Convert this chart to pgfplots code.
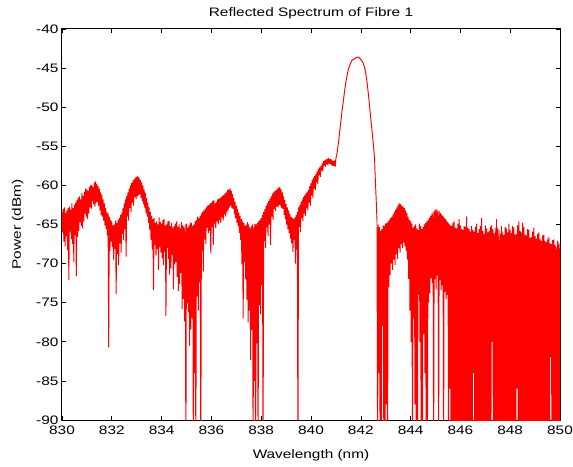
\documentclass[border=0pt]{standalone}
\usepackage{fontspec}
\setmainfont{Liberation Sans}[FakeStretch=1.25]
\usepackage{pgfplots}
\pgfplotsset{compat=1.18}
\usepackage{pgfplotstable}
\pgfplotstableread{
x y
830.000 -63.4
830.025 -66.0
830.050 -63.0
830.075 -67.2
830.100 -62.8
830.125 -67.8
830.150 -63.5
830.175 -66.5
830.200 -63.2
830.225 -68.3
830.250 -62.9
830.275 -72.1
830.300 -62.7
830.325 -65.9
830.350 -63.1
830.375 -66.9
830.400 -62.3
830.425 -67.5
830.450 -62.9
830.475 -69.8
830.500 -62.5
830.525 -66.4
830.550 -62.2
830.575 -71.6
830.600 -61.9
830.625 -66.6
830.650 -61.6
830.675 -65.8
830.700 -61.4
830.725 -64.7
830.750 -61.8
830.775 -65.2
830.800 -61.0
830.825 -65.5
830.850 -61.3
830.875 -64.6
830.900 -60.8
830.925 -63.6
830.950 -60.4
830.975 -64.0
831.000 -60.5
831.025 -64.3
831.050 -60.7
831.075 -63.6
831.100 -60.2
831.125 -62.8
831.150 -60.0
831.175 -63.0
831.200 -59.9
831.225 -62.0
831.250 -60.2
831.275 -62.4
831.300 -59.6
831.325 -62.7
831.350 -59.5
831.375 -62.2
831.400 -59.8
831.425 -62.1
831.450 -60.1
831.475 -62.6
831.500 -60.4
831.525 -63.2
831.550 -60.9
831.575 -63.8
831.600 -61.2
831.625 -64.0
831.650 -61.8
831.675 -64.5
831.700 -62.3
831.725 -65.1
831.750 -62.9
831.775 -65.6
831.800 -63.4
831.825 -66.4
831.850 -63.6
831.875 -80.7
831.900 -64.0
831.925 -68.4
831.950 -64.4
831.975 -67.2
832.000 -64.6
832.025 -67.9
832.050 -65.1
832.075 -69.5
832.100 -65.0
832.125 -68.1
832.150 -64.5
832.175 -73.9
832.200 -64.8
832.225 -68.8
832.250 -64.4
832.275 -70.2
832.300 -64.2
832.325 -67.4
832.350 -63.8
832.375 -68.6
832.400 -63.5
832.425 -66.2
832.450 -62.9
832.475 -67.0
832.500 -62.3
832.525 -65.6
832.550 -61.8
832.575 -69.1
832.600 -61.3
832.625 -64.0
832.650 -60.9
832.675 -64.5
832.700 -60.4
832.725 -62.9
832.750 -60.0
832.775 -63.4
832.800 -59.7
832.825 -62.2
832.850 -59.4
832.875 -62.6
832.900 -59.2
832.925 -61.5
832.950 -59.0
832.975 -61.8
833.000 -58.9
833.025 -61.4
833.050 -58.8
833.075 -61.2
833.100 -59.0
833.125 -61.1
833.150 -59.3
833.175 -61.6
833.200 -59.6
833.225 -62.0
833.250 -60.0
833.275 -62.4
833.300 -60.5
833.325 -62.9
833.350 -61.0
833.375 -63.5
833.400 -61.6
833.425 -64.0
833.450 -62.2
833.475 -64.8
833.500 -62.8
833.525 -65.7
833.550 -63.4
833.575 -67.0
833.600 -63.9
833.625 -68.2
833.650 -64.3
833.675 -73.4
833.700 -64.2
833.725 -67.6
833.750 -64.8
833.775 -69.0
833.800 -64.6
833.825 -68.1
833.850 -65.0
833.875 -70.8
833.900 -64.1
833.925 -67.9
833.950 -64.7
833.975 -68.6
834.000 -64.9
834.025 -69.3
834.050 -64.4
834.075 -70.2
834.100 -64.3
834.125 -68.5
834.150 -65.1
834.175 -76.7
834.200 -65.0
834.225 -68.0
834.250 -64.6
834.275 -69.4
834.300 -64.5
834.325 -71.4
834.350 -65.2
834.375 -70.6
834.400 -64.8
834.425 -68.9
834.450 -65.4
834.475 -73.3
834.500 -65.2
834.525 -70.1
834.550 -64.9
834.575 -69.8
834.600 -64.6
834.625 -71.7
834.650 -65.3
834.675 -73.5
834.700 -65.0
834.725 -72.6
834.750 -65.5
834.775 -71.2
834.800 -64.7
834.825 -75.8
834.850 -65.1
834.875 -74.5
834.900 -65.3
834.925 -77.4
834.950 -65.0
834.975 -95
835.000 -64.9
835.025 -75.1
835.050 -65.4
835.075 -76.2
835.100 -65.1
835.125 -80.5
835.150 -64.7
835.175 -78.4
835.200 -64.8
835.225 -76.9
835.250 -65.2
835.275 -95
835.300 -65.0
835.325 -84.0
835.350 -64.6
835.375 -95
835.400 -64.4
835.425 -74.2
835.450 -64.0
835.475 -76.0
835.500 -64.2
835.525 -72.4
835.550 -63.9
835.575 -95
835.600 -63.6
835.625 -68.4
835.650 -63.4
835.675 -71.0
835.700 -63.2
835.725 -66.9
835.750 -63.0
835.775 -67.5
835.800 -62.8
835.825 -65.4
835.850 -62.6
835.875 -66.1
835.900 -62.5
835.925 -65.8
835.950 -62.3
835.975 -68.7
836.000 -62.2
836.025 -65.3
836.050 -62.0
836.075 -67.6
836.100 -61.9
836.125 -64.9
836.150 -62.3
836.175 -65.5
836.200 -62.1
836.225 -64.6
836.250 -61.8
836.275 -65.0
836.300 -61.7
836.325 -64.4
836.350 -61.6
836.375 -64.8
836.400 -61.5
836.425 -64.1
836.450 -61.3
836.475 -64.5
836.500 -61.2
836.525 -63.7
836.550 -61.0
836.575 -64.0
836.600 -60.9
836.625 -63.4
836.650 -60.6
836.675 -63.2
836.700 -60.5
836.725 -62.8
836.750 -60.4
836.775 -62.6
836.800 -60.7
836.825 -62.9
836.850 -61.1
836.875 -63.0
836.900 -61.6
836.925 -63.7
836.950 -62.1
836.975 -64.2
837.000 -62.6
837.025 -64.8
837.050 -63.0
837.075 -65.2
837.100 -63.5
837.125 -66.1
837.150 -63.9
837.175 -67.0
837.200 -64.3
837.225 -70.1
837.250 -64.6
837.275 -77.0
837.300 -64.8
837.325 -69.8
837.350 -65.1
837.375 -72.0
837.400 -65.0
837.425 -74.6
837.450 -64.7
837.475 -77.5
837.500 -64.9
837.525 -76.0
837.550 -65.4
837.575 -82.3
837.600 -65.2
837.625 -78.5
837.650 -65.0
837.675 -95
837.700 -65.3
837.725 -85.0
837.750 -64.9
837.775 -95
837.800 -65.0
837.825 -80.2
837.850 -64.8
837.875 -95
837.900 -64.6
837.925 -75.3
837.950 -64.4
837.975 -76.5
838.000 -64.2
838.025 -72.8
838.050 -63.8
838.075 -95
838.100 -63.4
838.125 -67.1
838.150 -63.0
838.175 -68.0
838.200 -62.6
838.225 -65.4
838.250 -62.3
838.275 -66.5
838.300 -62.0
838.325 -65.0
838.350 -61.7
838.375 -67.6
838.400 -61.4
838.425 -64.0
838.450 -61.1
838.475 -64.4
838.500 -60.9
838.525 -63.0
838.550 -60.7
838.575 -63.3
838.600 -60.6
838.625 -62.7
838.650 -60.4
838.675 -62.8
838.700 -60.3
838.725 -62.5
838.750 -60.2
838.775 -62.6
838.800 -60.5
838.825 -62.9
838.850 -60.9
838.875 -63.0
838.900 -61.4
838.925 -63.8
838.950 -61.9
838.975 -64.3
839.000 -62.4
839.025 -65.0
839.050 -62.8
839.075 -65.6
839.100 -63.2
839.125 -66.1
839.150 -63.6
839.175 -66.8
839.200 -64.0
839.225 -67.4
839.250 -64.2
839.275 -68.5
839.300 -64.3
839.325 -67.0
839.350 -64.1
839.375 -70.0
839.400 -63.8
839.425 -68.2
839.450 -63.4
839.475 -95
839.500 -62.8
839.525 -65.3
839.550 -62.5
839.575 -66.0
839.600 -62.1
839.625 -64.2
839.650 -61.8
839.675 -64.6
839.700 -61.5
839.725 -63.6
839.750 -61.2
839.775 -63.9
839.800 -61.0
839.825 -62.9
839.850 -60.8
839.875 -63.2
839.900 -60.6
839.925 -62.2
839.950 -60.1
839.975 -62.6
840.000 -59.7
840.025 -61.3
840.050 -59.3
840.075 -61.6
840.100 -59.0
840.125 -60.4
840.150 -58.8
840.175 -60.6
840.200 -58.5
840.225 -59.6
840.250 -58.2
840.275 -59.8
840.300 -57.9
840.325 -58.7
840.350 -57.7
840.375 -58.9
840.400 -57.5
840.425 -58.1
840.450 -57.2
840.475 -58.2
840.500 -56.9
840.525 -57.5
840.550 -56.8
840.575 -57.6
840.600 -56.7
840.625 -57.3
840.650 -56.6
840.675 -57.4
840.700 -56.5
840.725 -57.2
840.750 -56.6
840.775 -57.3
840.800 -56.6
840.825 -57.4
840.850 -56.8
840.875 -57.5
840.900 -56.9
840.925 -57.5
840.950 -56.8
840.975 -57.6
841.000 -56.6
841.050 -55.8
841.100 -54.6
841.150 -53.2
841.200 -51.8
841.250 -50.4
841.300 -49.2
841.350 -47.9
841.400 -46.8
841.450 -45.9
841.500 -45.2
841.550 -44.7
841.600 -44.3
841.650 -44.0
841.700 -43.9
841.750 -43.8
841.800 -43.7
841.850 -43.6
841.900 -43.6
841.950 -43.7
842.000 -43.9
842.050 -44.1
842.100 -44.4
842.150 -44.9
842.200 -45.7
842.250 -46.8
842.300 -48.2
842.350 -49.8
842.400 -51.4
842.450 -53.0
842.500 -54.6
842.550 -56.4
842.580 -59.0
842.620 -62.0
842.650 -64.5
842.675 -95
842.700 -65.0
842.725 -84
842.750 -65.3
842.775 -95
842.800 -65.8
842.825 -90
842.850 -65.6
842.875 -78.0
842.900 -65.1
842.925 -95
842.950 -65.2
842.975 -95
843.000 -64.9
843.025 -88
843.050 -64.8
843.075 -95
843.100 -64.6
843.125 -73.0
843.150 -64.4
843.175 -71.5
843.200 -64.2
843.225 -70.0
843.250 -64.0
843.275 -70.8
843.300 -63.7
843.325 -69.5
843.350 -63.4
843.375 -70.2
843.400 -63.1
843.425 -68.8
843.450 -62.8
843.475 -69.4
843.500 -62.5
843.525 -68.0
843.550 -62.3
843.575 -68.6
843.600 -62.4
843.625 -67.5
843.650 -62.6
843.675 -68.0
843.700 -62.7
843.725 -67.3
843.750 -62.9
843.775 -67.8
843.800 -63.2
843.825 -68.4
843.850 -63.5
843.875 -69.5
843.900 -64.0
843.925 -72.0
843.950 -64.4
843.975 -76.0
844.000 -64.6
844.025 -80
844.050 -64.9
844.075 -95
844.100 -65.4
844.125 -77
844.150 -65.2
844.175 -88.0
844.200 -65.0
844.225 -95
844.250 -65.5
844.275 -95
844.300 -65.7
844.325 -74
844.350 -64.9
844.375 -80.0
844.400 -65.2
844.425 -95
844.450 -65.6
844.475 -95
844.500 -65.3
844.525 -79
844.550 -65.0
844.575 -84.0
844.600 -64.8
844.625 -95
844.650 -64.6
844.675 -95
844.700 -64.4
844.725 -75
844.750 -64.2
844.775 -73.8
844.800 -63.9
844.825 -71.9
844.850 -63.6
844.875 -72.5
844.900 -63.4
844.925 -95
844.950 -63.2
844.975 -72.0
845.000 -63.1
845.025 -73.3
845.050 -63.0
845.075 -71.5
845.100 -63.2
845.125 -95
845.150 -63.3
845.175 -72.1
845.200 -63.5
845.225 -73.4
845.250 -63.7
845.275 -72.8
845.300 -63.9
845.325 -95
845.350 -64.1
845.375 -73.6
845.400 -64.3
845.425 -74.5
845.450 -64.5
845.475 -74.0
845.500 -64.7
845.525 -95
845.550 -64.9
845.575 -86
845.600 -65.1
845.625 -95
845.650 -65.2
845.675 -95
845.700 -64.8
845.725 -95
845.750 -64.6
845.775 -95
845.800 -65.4
845.825 -95
845.850 -65.5
845.875 -95
845.900 -64.9
845.925 -95
845.950 -64.3
845.975 -95
846.000 -65.1
846.025 -95
846.050 -65.6
846.075 -95
846.100 -65.7
846.125 -95
846.150 -65.2
846.175 -95
846.200 -65.3
846.225 -95
846.250 -64.0
846.275 -95
846.300 -65.4
846.325 -95
846.350 -65.6
846.375 -95
846.400 -65.9
846.425 -95
846.450 -65.2
846.475 -95
846.500 -65.7
846.525 -84
846.550 -65.9
846.575 -95
846.600 -65.3
846.625 -95
846.650 -64.9
846.675 -95
846.700 -66.1
846.725 -95
846.750 -65.6
846.775 -95
846.800 -65.2
846.825 -95
846.850 -64.2
846.875 -95
846.900 -65.8
846.925 -95
846.950 -66.2
846.975 -95
847.000 -65.1
847.025 -95
847.050 -65.5
847.075 -95
847.100 -66.0
847.125 -95
847.150 -65.8
847.175 -95
847.200 -65.3
847.225 -95
847.250 -65.1
847.275 -80
847.300 -65.6
847.325 -95
847.350 -66.1
847.375 -95
847.400 -65.4
847.425 -95
847.450 -64.3
847.475 -95
847.500 -65.5
847.525 -95
847.550 -65.7
847.575 -95
847.600 -66.2
847.625 -95
847.650 -65.2
847.675 -95
847.700 -65.9
847.725 -95
847.750 -66.3
847.775 -95
847.800 -65.3
847.825 -95
847.850 -65.5
847.875 -95
847.900 -66.0
847.925 -95
847.950 -64.9
847.975 -95
848.000 -65.7
848.025 -95
848.050 -66.1
848.075 -95
848.100 -65.2
848.125 -95
848.150 -65.4
848.175 -95
848.200 -66.3
848.225 -95
848.250 -66.2
848.275 -86
848.300 -65.1
848.325 -95
848.350 -64.6
848.375 -95
848.400 -65.8
848.425 -95
848.450 -66.0
848.475 -95
848.500 -64.8
848.525 -95
848.550 -65.3
848.575 -95
848.600 -66.3
848.625 -95
848.650 -66.4
848.675 -95
848.700 -65.6
848.725 -95
848.750 -65.7
848.775 -95
848.800 -66.7
848.825 -95
848.850 -66.6
848.875 -95
848.900 -65.9
848.925 -95
848.950 -65.4
848.975 -95
849.000 -66.5
849.025 -95
849.050 -66.8
849.075 -95
849.100 -66.2
849.125 -95
849.150 -66.0
849.175 -95
849.200 -66.9
849.225 -95
849.250 -67.1
849.275 -95
849.300 -66.4
849.325 -95
849.350 -66.3
849.375 -95
849.400 -67.1
849.425 -95
849.450 -67.3
849.475 -95
849.500 -66.9
849.525 -95
849.550 -66.6
849.575 -95
849.600 -67.4
849.625 -82
849.650 -67.5
849.675 -95
849.700 -67.0
849.725 -95
849.750 -66.9
849.775 -95
849.800 -67.6
849.825 -95
849.850 -67.9
849.875 -95
849.900 -67.1
849.925 -95
849.950 -67.3
849.975 -95
850.000 -67.5
}\spectrum
\begin{document}
\begin{tikzpicture}
\useasboundingbox (-62pt,-46pt) rectangle (511pt,420pt);
\begin{axis}[
  at={(0pt,0pt)}, anchor=south west,
  scale only axis, width=498pt, height=391pt,
  xmin=830, xmax=850, ymin=-90, ymax=-40,
  xtick={830,832,...,850}, ytick={-90,-85,...,-40},
  tick align=inside, major tick length=4pt,
  axis line style={line width=1pt},
  every tick/.style={black, line width=0.6pt},
  /pgf/number format/assume math mode=true,
  /pgf/number format/1000 sep={},
  tick label style={font=\fontsize{12.3}{14}\selectfont},
  xticklabel style={yshift=-2pt},
  label style={font=\fontsize{12.3}{14}\selectfont},
  title style={font=\fontsize{12.3}{14}\selectfont},
  title={Reflected Spectrum of Fibre 1},
  xlabel={Wavelength (nm)},
  ylabel={Power (dBm)},
  xlabel style={yshift=-8pt},
  ylabel style={yshift=6pt},
  clip=true,
]
\addplot[red, line width=0.95pt, line join=bevel] table[x=x,y=y] {\spectrum};
\end{axis}
\end{tikzpicture}
\end{document}
